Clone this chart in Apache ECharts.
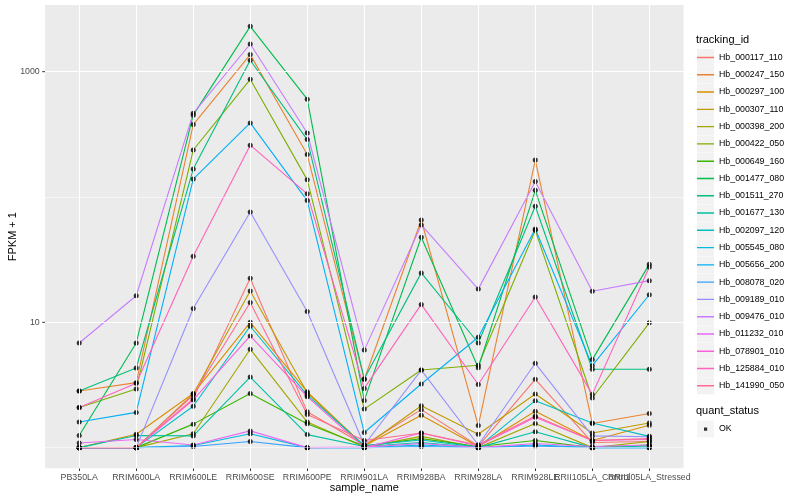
<!DOCTYPE html>
<html><head><meta charset="utf-8">
<script src="https://cdn.jsdelivr.net/npm/echarts@6/dist/echarts.min.js"></script>
<style>html,body{margin:0;padding:0;background:#fff}#c{width:800px;height:500px}</style>
</head><body><div id="c"></div>
<script>
const categories = ['PB350LA','RRIM600LA','RRIM600LE','RRIM600SE','RRIM600PE','RRIM901LA','RRIM928BA','RRIM928LA','RRIM928LE','RRII105LA_Control','RRII105LA_Stressed'];
const trackingIds = ['Hb_000117_110','Hb_000247_150','Hb_000297_100','Hb_000307_110','Hb_000398_200','Hb_000422_050','Hb_000649_160','Hb_001477_080','Hb_001511_270','Hb_001677_130','Hb_002097_120','Hb_005545_080','Hb_005656_200','Hb_008078_020','Hb_009189_010','Hb_009476_010','Hb_011232_010','Hb_078901_010','Hb_125884_010','Hb_141990_050'];
const colors = ['#F8766D','#EA8331','#D89000','#C09B00','#A3A500','#7CAE00','#39B600','#00BB4E','#00BF7D','#00C1A3','#00BFC4','#00BAE0','#00B0F6','#35A2FF','#9590FF','#C77CFF','#E76BF3','#FA62DB','#FF62BC','#FF6C91'];

// FPKM + 1 per sample, in categories order
const Hb_000117_110 = [1.0, 1.0, 2.46, 22.5, 1.93, 1.05, 2.01, 1.03, 3.51, 1.10, 1.12];
const Hb_000247_150 = [2.83, 3.30, 378, 1368, 218, 3.50, 65.5, 1.50, 197, 1.56, 1.87];
const Hb_000297_100 = [1.0, 1.28, 2.70, 10.0, 2.79, 1.03, 1.81, 1.02, 1.95, 1.14, 1.51];
const Hb_000307_110 = [1.0, 1.0, 2.68, 17.8, 2.74, 1.02, 2.16, 1.28, 2.68, 1.31, 1.57];
const Hb_000398_200 = [1.0, 1.0, 1.29, 6.1, 1.60, 1.01, 1.23, 1.0, 1.56, 1.0, 1.12];
const Hb_000422_050 = [2.09, 2.94, 237, 869, 137, 2.03, 4.16, 4.54, 54.2, 2.49, 9.9];
const Hb_000649_160 = [1.0, 1.0, 1.54, 2.70, 1.55, 1.03, 1.18, 1.02, 1.14, 1.0, 1.05];
const Hb_001477_080 = [1.25, 6.84, 450, 2300, 603, 2.38, 47.7, 4.34, 113, 5.04, 29.0];
const Hb_001511_270 = [2.83, 4.32, 167, 1233, 287, 3.55, 24.8, 6.84, 84.4, 4.22, 4.22];
const Hb_001677_130 = [1.0, 1.25, 1.24, 3.66, 1.27, 1.02, 1.10, 1.0, 1.34, 1.0, 1.03];
const Hb_002097_120 = [1.0, 1.0, 2.14, 9.3, 2.62, 1.04, 1.15, 1.01, 2.37, 1.57, 1.23];
const Hb_005545_080 = [1.0, 1.0, 1.04, 1.29, 1.0, 1.0, 1.05, 1.0, 1.05, 1.0, 1.0];
const Hb_005656_200 = [1.60, 1.91, 139, 390, 93.6, 1.32, 3.22, 7.6, 55.6, 4.51, 16.6];
const Hb_008078_020 = [1.0, 1.0, 1.02, 1.12, 1.0, 1.0, 1.02, 1.0, 1.03, 1.0, 1.0];
const Hb_009189_010 = [1.0, 1.0, 12.9, 75.9, 12.2, 1.05, 4.16, 1.05, 4.71, 1.24, 1.22];
const Hb_009476_010 = [6.84, 16.3, 465, 1663, 324, 6.0, 59.8, 18.4, 133, 17.7, 21.5];
const Hb_011232_010 = [1.09, 1.16, 1.05, 1.36, 1.0, 1.01, 1.08, 1.0, 1.08, 1.02, 1.05];
const Hb_078901_010 = [1.0, 1.0, 2.40, 7.78, 2.55, 1.0, 1.31, 1.03, 1.75, 1.14, 1.16];
const Hb_125884_010 = [2.09, 3.26, 33.7, 259, 106, 2.97, 13.9, 3.19, 15.9, 2.66, 27.6];
const Hb_141990_050 = [1.0, 1.0, 2.63, 14.4, 1.84, 1.14, 1.31, 1.05, 1.79, 1.14, 1.18];

const yMajorTicks = [10, 1000];
const yMinorTicks = [1, 100];

const seriesValues = [Hb_000117_110,Hb_000247_150,Hb_000297_100,Hb_000307_110,Hb_000398_200,Hb_000422_050,Hb_000649_160,Hb_001477_080,Hb_001511_270,Hb_001677_130,Hb_002097_120,Hb_005545_080,Hb_005656_200,Hb_008078_020,Hb_009189_010,Hb_009476_010,Hb_011232_010,Hb_078901_010,Hb_125884_010,Hb_141990_050];

const FONT = 'Liberation Sans, Arial, Helvetica, sans-serif';
const X_MIN = -0.6, X_MAX = 10.6;
const catIdx = categories.map((c, i) => i);
const labelPositions = [X_MIN].concat(catIdx).concat([X_MAX]);

const lineSeries = seriesValues.map((vals, k) => ({
  name: trackingIds[k], type: 'line', z: 2,
  symbol: 'none', silent: true,
  lineStyle: { width: 1.1, color: colors[k] },
  itemStyle: { color: colors[k] },
  emphasis: { disabled: true },
  data: vals.map((v, i) => [i, v])
}));

const pointData = [];
seriesValues.forEach(vals => vals.forEach((v, i) => pointData.push([i, v])));

const gridLines = [];
yMinorTicks.forEach(v => gridLines.push({ yAxis: v, lineStyle: { width: 0.55, color: '#FFFFFF', type: 'solid' } }));
yMajorTicks.forEach(v => gridLines.push({ yAxis: v, lineStyle: { width: 1.1, color: '#FFFFFF', type: 'solid' } }));
catIdx.forEach(i => gridLines.push({ xAxis: i, lineStyle: { width: 1.1, color: '#FFFFFF', type: 'solid' } }));

const lineIcon = 'path://M0,0h0.01v0.01H0z M0,7.8h17v1.4H0z M16.99,16.99h0.01v0.01h-0.01z';
const dotIcon = 'path://M0,0h0.01v0.01H0z M7,7h3.2v3.2H7z M16.99,16.99h0.01v0.01h-0.01z';

const legendBase = { orient: 'vertical', left: 697, itemWidth: 17, itemHeight: 17, itemGap: 0.28, padding: 0, selectedMode: false };

const option = {
  animation: false,
  backgroundColor: '#FFFFFF',
  textStyle: { fontFamily: FONT },
  title: [
    { text: 'tracking_id', left: 696, top: 34, padding: 0, textStyle: { fontSize: 11, fontWeight: 'normal', color: '#000', fontFamily: FONT } },
    { text: 'quant_status', left: 696, top: 405.5, padding: 0, textStyle: { fontSize: 11, fontWeight: 'normal', color: '#000', fontFamily: FONT } }
  ],
  legend: [
    Object.assign({}, legendBase, { top: 49, z: 3, icon: 'rect', itemStyle: { color: '#F2F2F2', borderWidth: 0 },
      textStyle: { fontSize: 8.8, color: 'rgba(0,0,0,0)', fontFamily: FONT }, data: trackingIds.slice() }),
    Object.assign({}, legendBase, { top: 49, z: 4, icon: lineIcon,
      textStyle: { fontSize: 8.8, color: '#000', fontFamily: FONT },
      data: trackingIds.map((n, k) => ({ name: n, itemStyle: { color: colors[k], borderWidth: 0 } })) }),
    Object.assign({}, legendBase, { top: 420.5, z: 3, icon: 'rect', itemStyle: { color: '#F2F2F2', borderWidth: 0 },
      textStyle: { fontSize: 8.8, color: 'rgba(0,0,0,0)', fontFamily: FONT }, data: ['OK'] }),
    Object.assign({}, legendBase, { top: 420.5, z: 4, icon: dotIcon,
      textStyle: { fontSize: 8.8, color: '#000', fontFamily: FONT },
      data: [{ name: 'OK', itemStyle: { color: '#000', borderWidth: 0 } }] })
  ],
  grid: { left: 45, right: 116.5, top: 5, bottom: 31.7, show: true, backgroundColor: '#EBEBEB', borderWidth: 0,
    containLabel: false, outerBoundsMode: 'none' },
  xAxis: {
    type: 'value', min: X_MIN, max: X_MAX,
    name: 'sample_name', nameLocation: 'middle', nameGap: 14, nameMoveOverlap: false,
    nameTextStyle: { fontSize: 11, color: '#000', fontFamily: FONT },
    axisLine: { show: false },
    axisTick: { show: true, length: 2.75, customValues: catIdx, lineStyle: { color: '#333333', width: 1 } },
    axisLabel: { customValues: labelPositions, margin: 5, fontSize: 8.8, color: '#4D4D4D', fontFamily: FONT,
      hideOverlap: false,
      formatter: v => (Math.abs(v - Math.round(v)) < 1e-9 && categories[Math.round(v)]) ? categories[Math.round(v)] : ' ' },
    splitLine: { show: false }
  },
  yAxis: {
    type: 'log', logBase: 10, min: 0.684, max: 3404,
    name: 'FPKM + 1', nameLocation: 'middle', nameGap: 27, nameMoveOverlap: false,
    nameTextStyle: { fontSize: 11, color: '#000', fontFamily: FONT },
    axisLine: { show: false },
    axisTick: { show: false },
    splitLine: { show: false },
    axisLabel: {
      margin: 0,
      formatter: v => {
        const l = Math.log10(v), r = Math.round(l);
        if (Math.abs(l - r) > 1e-6) return '';
        const val = Math.pow(10, r);
        if (yMajorTicks.indexOf(val) < 0) return '';
        return '{l|' + val + '}{t|}';
      },
      rich: {
        l: { fontSize: 8.8, color: '#4D4D4D', fontFamily: FONT, padding: [0, 2.5, 0, 0] },
        t: { width: 2.75, height: 1, backgroundColor: '#333333', verticalAlign: 'middle' }
      }
    }
  },
  series: [
    { name: '__grid', type: 'line', z: 1, data: [], symbol: 'none', silent: true,
      markLine: { silent: true, symbol: ['none', 'none'], label: { show: false }, emphasis: { disabled: true }, animation: false, data: gridLines } }
  ].concat(lineSeries).concat([
    { name: 'OK', type: 'scatter', z: 3, symbol: 'circle', symbolSize: 5, silent: true,
      itemStyle: { color: '#000000' }, emphasis: { disabled: true }, data: pointData }
  ])
};

const chart = echarts.init(document.getElementById('c'), null, { renderer: 'canvas' });
chart.setOption(option);
</script></body></html>
